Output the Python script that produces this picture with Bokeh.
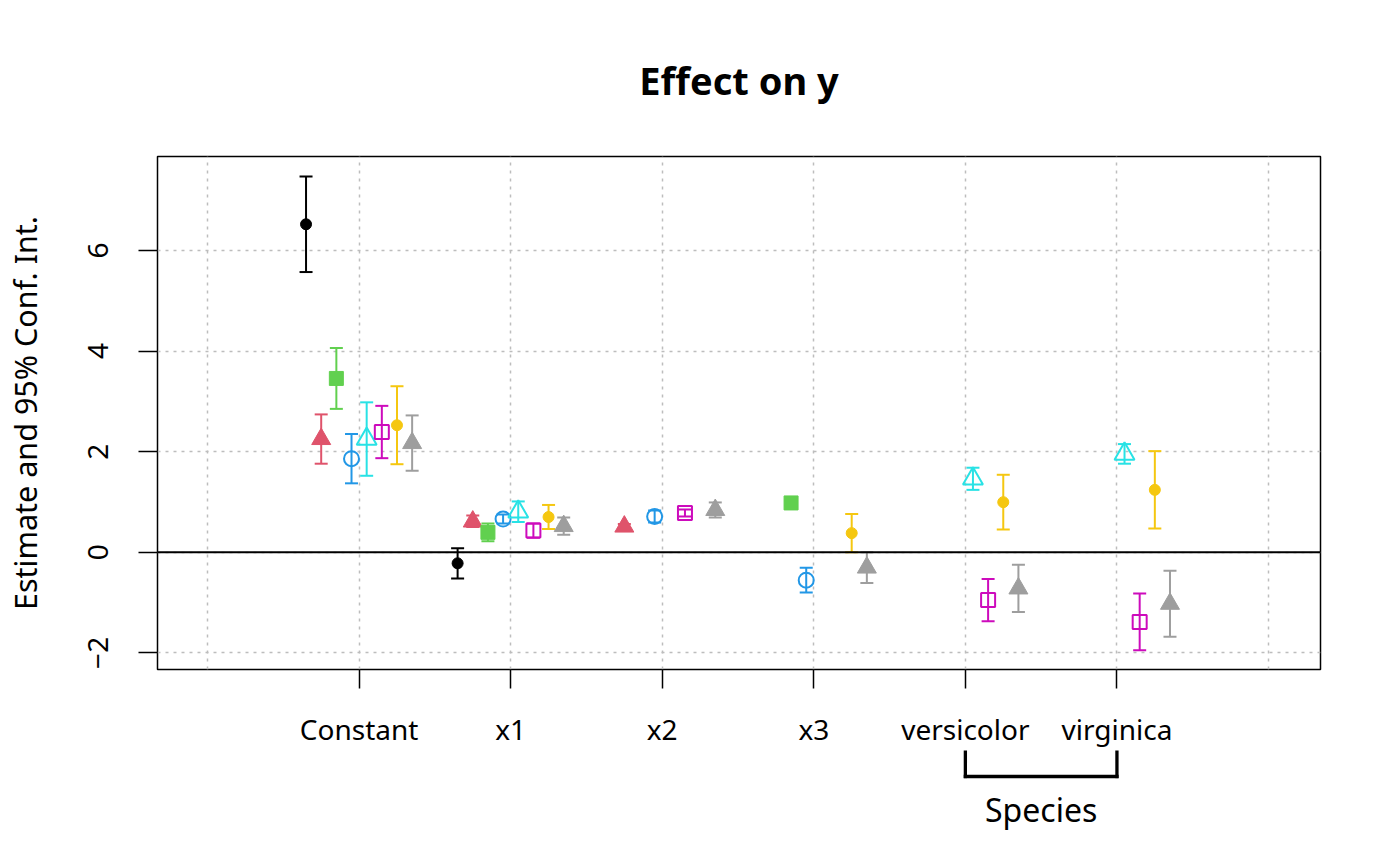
import math
from bokeh.plotting import figure
from bokeh.layouts import column
from bokeh.models import FixedTicker, Span
from bokeh.core.properties import value
from bokeh.embed import file_html
from bokeh.resources import INLINE

nan = float("nan")

terms = ["Constant", "x1", "x2", "x3", "versicolor", "virginica"]
group_label = "Species"
group_terms = [5, 6]  # versicolor, virginica (1-based positions)

# estimates and 95% CI per model (NaN = term not in model)
m1_est = [6.52, -0.22, nan, nan, nan, nan]
m1_lo = [5.57, -0.52, nan, nan, nan, nan]
m1_hi = [7.47, 0.08, nan, nan, nan, nan]

m2_est = [2.25, 0.61, 0.51, nan, nan, nan]
m2_lo = [1.76, 0.50, 0.46, nan, nan, nan]
m2_hi = [2.74, 0.73, 0.56, nan, nan, nan]

m3_est = [3.455, 0.395, nan, 0.98, nan, nan]
m3_lo = [2.85, 0.22, nan, 0.93, nan, nan]
m3_hi = [4.06, 0.57, nan, 1.03, nan, nan]

m4_est = [1.86, 0.66, 0.71, -0.555, nan, nan]
m4_lo = [1.37, 0.57, 0.59, -0.80, nan, nan]
m4_hi = [2.35, 0.75, 0.83, -0.31, nan, nan]

m5_est = [2.25, 0.805, nan, nan, 1.46, 1.955]
m5_lo = [1.52, 0.60, nan, nan, 1.24, 1.76]
m5_hi = [2.98, 1.01, nan, nan, 1.68, 2.15]

m6_est = [2.39, 0.43, 0.78, nan, -0.95, -1.385]
m6_lo = [1.87, 0.29, 0.71, nan, -1.37, -1.95]
m6_hi = [2.91, 0.57, 0.85, nan, -0.53, -0.82]

m7_est = [2.525, 0.70, nan, 0.38, 0.995, 1.24]
m7_lo = [1.75, 0.46, nan, 0.00, 0.45, 0.47]
m7_hi = [3.30, 0.94, nan, 0.76, 1.54, 2.01]

m8_est = [2.17, 0.52, 0.84, -0.305, -0.72, -1.025]
m8_lo = [1.62, 0.35, 0.69, -0.61, -1.19, -1.68]
m8_hi = [2.72, 0.69, 0.99, 0.00, -0.25, -0.37]

models = [
    (m1_est, m1_lo, m1_hi), (m2_est, m2_lo, m2_hi), (m3_est, m3_lo, m3_hi),
    (m4_est, m4_lo, m4_hi), (m5_est, m5_lo, m5_hi), (m6_est, m6_lo, m6_hi),
    (m7_est, m7_lo, m7_hi), (m8_est, m8_lo, m8_hi),
]

colors = ["#000000", "#DF536B", "#61D04F", "#2297E6", "#28E2E5", "#CD0BBC", "#F5C710", "#9E9E9E"]
# (marker, size, filled)
styles = [("circle", 11, True), ("triangle", 19, True), ("square", 14, True),
          ("circle", 15, False), ("triangle", 20, False), ("square", 14, False),
          ("circle", 11, True), ("triangle", 19, True)]
offsets = [-0.35, -0.25, -0.15, -0.05, 0.05, 0.15, 0.25, 0.35]

FONT = "Noto Sans"
LEFT, RIGHT, FW = 154, 60, 1163

p = figure(frame_width=FW, frame_height=513,
           x_range=(-0.330, 7.343), y_range=(-2.331, 7.867),
           min_border_left=LEFT, min_border_right=RIGHT, min_border_top=156, min_border_bottom=78,
           output_backend="svg", toolbar_location=None)

p.background_fill_color = "white"
p.border_fill_color = "white"
p.outline_line_color = "black"
p.outline_line_width = 1.5
p.outline_line_alpha = 1.0

# title
p.title.text = "Effect on y"
p.title.align = "center"
p.title.text_font = FONT
p.title.text_font_size = "38px"
p.title.text_font_style = "bold"
p.title.text_color = "black"
p.title.standoff = 102

# axes
p.xaxis.ticker = FixedTicker(ticks=[1, 2, 3, 4, 5, 6])
p.xaxis.major_label_overrides = {i + 1: t for i, t in enumerate(terms)}
p.yaxis.ticker = FixedTicker(ticks=[-2, 0, 2, 4, 6])
for ax in (p.xaxis[0], p.yaxis[0]):
    ax.axis_line_color = None
    ax.major_tick_out = 19
    ax.major_tick_in = 0
    ax.minor_tick_out = 0
    ax.minor_tick_in = 0
    ax.major_tick_line_color = "black"
    ax.major_tick_line_width = 1.5
    ax.major_label_text_font = FONT
    ax.major_label_text_font_size = "28px"
    ax.major_label_text_color = "black"
p.xaxis.major_label_standoff = 21
p.yaxis.major_label_standoff = 30
p.yaxis.major_label_orientation = "parallel"
p.yaxis.axis_label = "Estimate and 95% Conf. Int."
p.yaxis.axis_label_text_font = FONT
p.yaxis.axis_label_text_font_size = "30.5px"
p.yaxis.axis_label_text_font_style = "normal"
p.yaxis.axis_label_text_color = "black"
p.yaxis.axis_label_standoff = 40

# grid
p.xgrid.ticker = FixedTicker(ticks=[0, 1, 2, 3, 4, 5, 6, 7])
for g in (p.xgrid[0], p.ygrid[0]):
    g.grid_line_color = "#BDBDBD"
    g.grid_line_dash = "3 5"
    g.grid_line_width = 1.5

p.add_layout(Span(location=0, dimension="width", line_color="black", line_width=2))

for (est, lo, hi), col, (mk, sz, filled), off in zip(models, colors, styles, offsets):
    xs, ys, ls, hs = [], [], [], []
    for i in range(len(terms)):
        if not math.isnan(est[i]):
            xs.append(i + 1 + off)
            ys.append(est[i])
            ls.append(lo[i])
            hs.append(hi[i])
    p.segment(x0=xs, y0=ls, x1=xs, y1=hs, line_color=col, line_width=2)
    p.dash(x=xs, y=ls, size=13, line_color=col, line_width=2)
    p.dash(x=xs, y=hs, size=13, line_color=col, line_width=2)
    if filled:
        p.scatter(x=xs, y=ys, marker=mk, size=sz, fill_color=col, line_color=col, line_width=1)
    else:
        p.scatter(x=xs, y=ys, marker=mk, size=sz, fill_alpha=0, line_color=col, line_width=2)

# strip below the axis: bracket grouping the Species terms
p2 = figure(frame_width=FW, frame_height=100, x_range=p.x_range, y_range=(0, 100),
            min_border_left=LEFT, min_border_right=RIGHT, min_border_top=0, min_border_bottom=0,
            x_axis_location=None, y_axis_location=None,
            output_backend="svg", toolbar_location=None)
p2.grid.visible = False
p2.outline_line_color = None
p2.background_fill_color = "white"
p2.border_fill_color = "white"
g0, g1 = group_terms
p2.segment(x0=[g0, g1, g0], y0=[100, 100, 74], x1=[g0, g1, g1], y1=[74, 74, 74],
           line_color="black", line_width=3.3, line_cap="square")
p2.text(x=[(g0 + g1) / 2], y=[41], text=[group_label], text_align="center", text_baseline="middle",
        text_font=value(FONT), text_font_size="32px", text_color="black")

layout = column(p, p2, spacing=0)
open("out.html", "w").write(file_html(layout, INLINE))
